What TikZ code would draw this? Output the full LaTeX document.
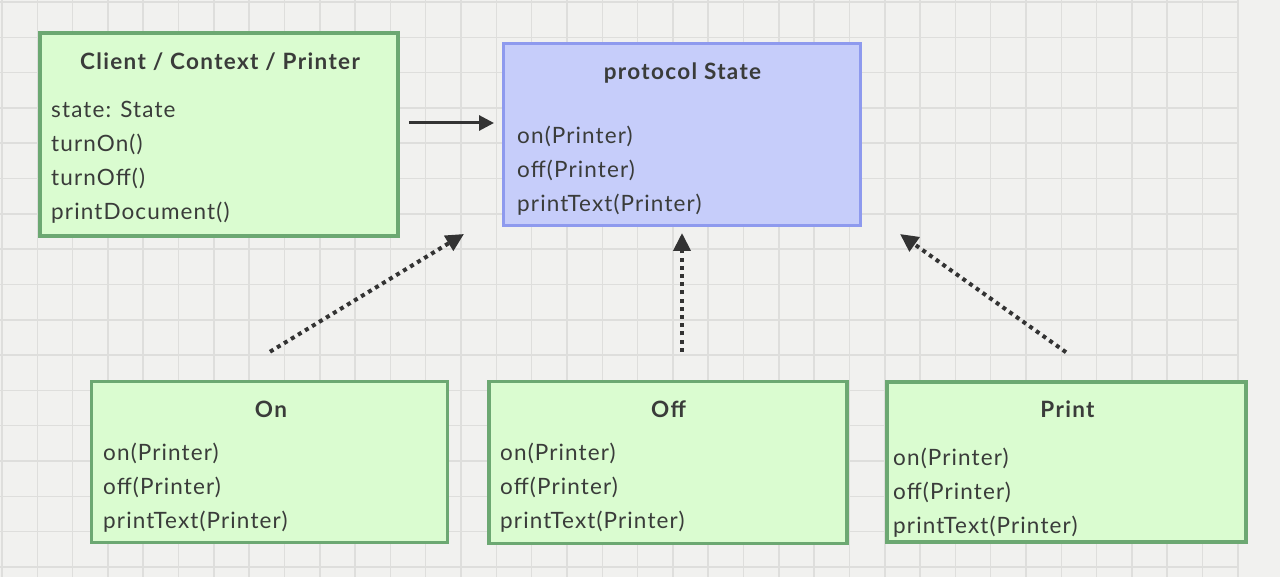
\documentclass[tikz,border=0pt]{standalone}
\usepackage{fontspec}
\setmainfont{Lato}[LetterSpace=5]
\newfontfamily\ttlfont{Lato}[LetterSpace=6]
\usetikzlibrary{arrows.meta,calc}
\definecolor{paper}{HTML}{F1F1EF}
\definecolor{gridc}{HTML}{DEDEDC}
\definecolor{gfill}{HTML}{DAFCD0}
\definecolor{gline}{HTML}{6CA872}
\definecolor{bfill}{HTML}{C6CDFA}
\definecolor{bline}{HTML}{8E9AEE}
\definecolor{txt}{HTML}{3A3C3A}
\definecolor{arr}{HTML}{333333}
\tikzset{
  gridline/.style={draw=gridc, line width=1.5pt},
  gbox/.style={draw=gline, fill=gfill, line width=3.5pt, rectangle, inner sep=0pt},
  bbox/.style={draw=bline, fill=bfill, line width=3pt, rectangle, inner sep=0pt},
  ttl/.style={anchor=base, inner sep=0pt, text=txt, font=\ttlfont\fontsize{22.5}{26}\selectfont\bfseries},
  body/.style={anchor=base west, inner sep=0pt, text=txt, font=\fontsize{22.5}{26}\selectfont},
  solidarrow/.style={draw=arr, line width=3pt, -{Triangle[length=15pt,width=15pt]}},
  dotarrow/.style={draw=arr, line width=4pt, dash pattern=on 4pt off 4.2pt, -{Triangle[length=18pt,width=17pt]}},
}
\begin{document}
\begin{tikzpicture}[x=1pt,y=-1pt]
\useasboundingbox (0,0) rectangle (1280,577);
\fill[paper] (0,0) rectangle (1280,577);
\foreach \i in {0,...,35} \draw[gridline] ({2+\i*35.31},0) -- ({2+\i*35.31},577);
\foreach \j in {0,...,16} \draw[gridline] (0,{2+\j*35.31}) -- (1238.8,{2+\j*35.31});

% boxes
\node[gbox, minimum width=358pt, minimum height=203pt] (client) at (219,134.5) {};
\node[bbox, minimum width=357pt, minimum height=182pt] (state) at (682,134.5) {};
\node[gbox, minimum width=356pt, minimum height=161pt] (on) at (269.5,462) {};
\node[gbox, minimum width=358pt, minimum height=162pt] (off) at (668,462.5) {};
\node[gbox, minimum width=359pt, minimum height=160pt] (print) at (1066.5,462) {};

% client text
\node[ttl] (ct) at (220,70) {Client / Context / Printer};
\node[body] (c1) at (51,118) {state: State};
\node[body] (c2) at (51,152) {turnOn()};
\node[body] (c3) at (51,186) {turnOff()};
\node[body] (c4) at (51,220) {printDocument()};

% state text
\node[ttl] (st) at (682.5,80) {protocol State};
\node[body] (s1) at (517,144) {on(Printer)};
\node[body] (s2) at (517,178) {off(Printer)};
\node[body] (s3) at (517,212) {printText(Printer)};

% on text
\node[ttl] (ont) at (271,417) {On};
\node[body] (o1) at (103,460) {on(Printer)};
\node[body] (o2) at (103,494) {off(Printer)};
\node[body] (o3) at (103,528) {printText(Printer)};

% off text
\node[ttl] (offt) at (668.5,417) {Off};
\node[body] (f1) at (500,460) {on(Printer)};
\node[body] (f2) at (500,494) {off(Printer)};
\node[body] (f3) at (500,528) {printText(Printer)};

% print text
\node[ttl] (prt) at (1067.5,417) {Print};
\node[body] (p1) at (893,465) {on(Printer)};
\node[body] (p2) at (893,499) {off(Printer)};
\node[body] (p3) at (893,533) {printText(Printer)};

% connector end points
\coordinate (cA) at ($(client.east)+(9,-11.5)$);
\coordinate (sA) at ($(state.west)+(-8,-11.5)$);
\coordinate (onA) at ($(on.north)+(0.5,-28)$);
\coordinate (sOn) at (464,234);
\coordinate (offA) at ($(off.north)+(14,-28)$);
\coordinate (sOff) at ($(state.south)+(0,6)$);
\coordinate (prA) at ($(print.north)+(-0.5,-28)$);
\coordinate (sPr) at (900,234);

\draw[solidarrow] (cA) -- (sA);
\draw[dotarrow] (onA) -- (sOn);
\draw[dotarrow] (offA) -- (sOff);
\draw[dotarrow] (prA) -- (sPr);
\end{tikzpicture}
\end{document}
